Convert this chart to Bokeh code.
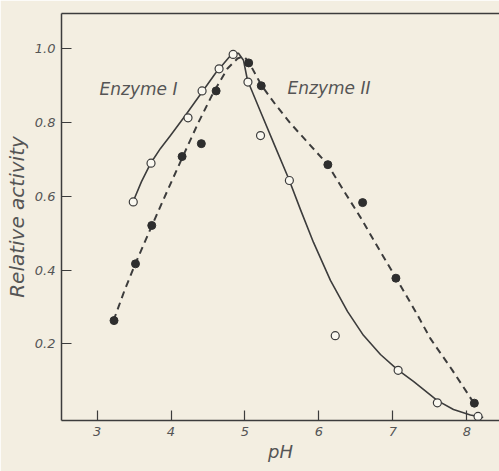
from bokeh.plotting import figure
from bokeh.models import FixedTicker, LinearAxis, CustomJSTickFormatter, Range1d
from bokeh.core.properties import value
from bokeh.embed import file_html
from bokeh.resources import INLINE

# Enzyme I (open circles, solid curve)
enz1_ph = [3.49, 3.73, 4.23, 4.42, 4.65, 4.84, 5.04, 5.21, 5.60, 6.22, 7.07, 7.60, 8.15]
enz1_act = [0.585, 0.690, 0.813, 0.886, 0.946, 0.985, 0.910, 0.765, 0.643, 0.222, 0.128, 0.040, 0.003]
# Enzyme II (filled circles, dashed curve)
enz2_ph = [3.23, 3.52, 3.74, 4.15, 4.41, 4.61, 5.05, 5.22, 6.12, 6.59, 7.04, 8.10]
enz2_act = [0.263, 0.417, 0.521, 0.708, 0.743, 0.886, 0.962, 0.900, 0.686, 0.583, 0.378, 0.039]

# Drawn curves
curve1_ph = [3.484, 3.601, 3.723, 3.858, 3.993, 4.196, 4.399, 4.601, 4.736, 4.831, 4.912, 4.980,
             5.034, 5.209, 5.412, 5.588, 5.750, 5.926, 6.155, 6.385, 6.601, 6.831, 7.061, 7.277,
             7.601, 7.818, 8.047, 8.220]
curve1_act = [0.584, 0.640, 0.689, 0.730, 0.765, 0.820, 0.877, 0.934, 0.966, 0.988, 0.988, 0.969,
              0.915, 0.830, 0.733, 0.649, 0.564, 0.475, 0.372, 0.288, 0.223, 0.171, 0.130, 0.098,
              0.046, 0.022, 0.007, 0.000]
curve2_ph = [3.223, 3.372, 3.520, 3.736, 3.953, 4.155, 4.372, 4.574, 4.764, 4.899, 4.980, 5.047,
             5.223, 5.412, 5.615, 5.858, 6.115, 6.358, 6.561, 6.804, 7.047, 7.304, 7.507, 7.804, 8.088]
curve2_act = [0.263, 0.345, 0.418, 0.518, 0.616, 0.706, 0.801, 0.882, 0.947, 0.974, 0.980, 0.966,
              0.901, 0.849, 0.798, 0.744, 0.687, 0.608, 0.543, 0.459, 0.377, 0.288, 0.214, 0.128, 0.041]

x_ticks = [3, 4, 5, 6, 7, 8]
y_ticks = [0.2, 0.4, 0.6, 0.8, 1.0]
labels_text = ["Enzyme I", "Enzyme II"]
labels_x = [3.034, 5.574]
labels_y = [0.890, 0.893]

BG = "#f3eee1"
INK = "#3c3c3c"
TXT = "#555555"
FONT = "DejaVu Sans"

p = figure(width=499, height=471, output_backend="svg", toolbar_location=None,
           x_range=Range1d(2.52, 8.44), y_range=Range1d(-0.008, 1.096),
           min_border_left=61, min_border_right=0, min_border_top=13, min_border_bottom=51)
p.background_fill_color = BG
p.border_fill_color = BG
p.outline_line_color = None
p.grid.visible = False

p.line(curve1_ph, curve1_act, line_color=INK, line_width=1.6, line_join="round")
p.line(curve2_ph, curve2_act, line_color=INK, line_width=2.0, line_dash="7 5", line_join="round")
p.scatter(enz1_ph, enz1_act, size=8, marker="circle", fill_color="#faf8f0", line_color=INK, line_width=1.2)
p.scatter(enz2_ph, enz2_act, size=8, marker="circle", fill_color="#2e2e2e", line_color="#2e2e2e")

p.text(labels_x, labels_y, text=labels_text, text_font=value(FONT), text_font_style="italic",
       text_font_size="17px", text_color=TXT, text_baseline="middle", text_align="left")

fmt = CustomJSTickFormatter(code="return tick.toFixed(1);")
for ax in [p.xaxis[0], p.yaxis[0]]:
    ax.axis_line_color = INK
    ax.axis_line_width = 1.5
    ax.major_tick_line_color = INK
    ax.major_tick_line_width = 1.2
    ax.major_tick_in = 10
    ax.major_tick_out = 0
    ax.minor_tick_line_color = None
    ax.major_label_text_font = FONT
    ax.major_label_text_font_style = "italic"
    ax.major_label_text_font_size = "13px"
    ax.major_label_text_color = TXT
    ax.axis_label_text_font = FONT
    ax.axis_label_text_font_style = "italic"
    ax.axis_label_text_color = TXT

p.xaxis[0].ticker = FixedTicker(ticks=x_ticks)
p.yaxis[0].ticker = FixedTicker(ticks=y_ticks)
p.yaxis[0].formatter = fmt
p.xaxis[0].axis_label = "pH"
p.yaxis[0].axis_label = "Relative activity"
p.xaxis[0].axis_label_text_font_size = "18px"
p.yaxis[0].axis_label_text_font_size = "20px"
p.xaxis[0].major_label_standoff = 6
p.xaxis[0].axis_label_standoff = 2
p.yaxis[0].major_label_standoff = 6
p.yaxis[0].axis_label_standoff = 3

top = LinearAxis(ticker=FixedTicker(ticks=[]), major_label_text_font_size="0px",
                 axis_line_color=INK, axis_line_width=1.5, major_tick_line_color=None,
                 minor_tick_line_color=None)
p.add_layout(top, "above")

open("out.html", "w").write(file_html(p, INLINE))
